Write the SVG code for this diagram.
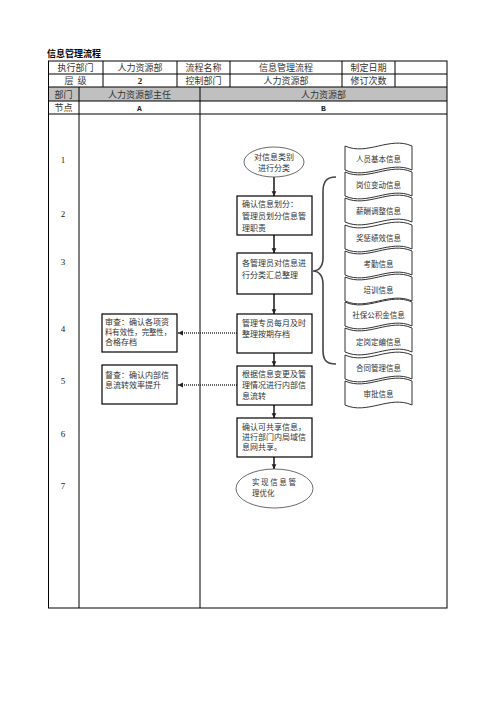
<svg xmlns="http://www.w3.org/2000/svg" width="496" height="702" viewBox="0 0 496 702">
<defs>
<style>
.t{font-family:"Noto Sans CJK SC","Liberation Sans",sans-serif;font-size:9px;fill:#333;}
.h{text-anchor:middle;}
.b{font-family:"Noto Sans CJK SC","Liberation Sans",sans-serif;font-size:8px;fill:#333;}
.s{font-family:"Noto Sans CJK SC","Liberation Sans",sans-serif;font-size:7.5px;fill:#333;text-anchor:middle;}
.n{font-family:"Liberation Serif",serif;font-size:9px;fill:#222;text-anchor:middle;}
.ln{stroke:#000;stroke-width:1;fill:none;}
.box{fill:#fff;stroke:#000;stroke-width:1.2;}
.ell{fill:#fff;stroke:#444;stroke-width:0.8;}
.tape{fill:#fff;stroke:#333;stroke-width:1;}
.arr{stroke:#222;stroke-width:1.6;fill:none;marker-end:url(#ah);}
.dot{stroke:#333;stroke-width:1.3;stroke-dasharray:1 1;fill:none;marker-end:url(#ah2);}
</style>
<marker id="ah" viewBox="0 0 10 10" refX="10" refY="5" markerWidth="3" markerHeight="3.2" orient="auto" markerUnits="strokeWidth">
<path d="M0,0 L10,5 L0,10 Z" fill="#222"/>
</marker>
<marker id="ah2" viewBox="0 0 10 10" refX="10" refY="5" markerWidth="4" markerHeight="4" orient="auto" markerUnits="strokeWidth">
<path d="M0,0 L10,5 L0,10 Z" fill="#222"/>
</marker>
</defs>
<rect width="496" height="702" fill="#fff"/>

<text x="47" y="57" style="font-family:'Noto Sans CJK SC',sans-serif;font-size:9px;font-weight:bold;fill:#000">信息管理流程</text>

<g id="table">
<rect x="48" y="87" width="399" height="14" fill="#c0c0c0"/>
<rect x="48.5" y="61" width="398.5" height="547" class="ln"/>
<line x1="48" y1="74" x2="447" y2="74" class="ln"/>
<line x1="48" y1="87" x2="447" y2="87" class="ln"/>
<line x1="48" y1="101" x2="447" y2="101" class="ln"/>
<line x1="48" y1="114" x2="447" y2="114" class="ln"/>
<line x1="103" y1="61" x2="103" y2="87" class="ln"/>
<line x1="177" y1="61" x2="177" y2="87" class="ln"/>
<line x1="230" y1="61" x2="230" y2="87" class="ln"/>
<line x1="342" y1="61" x2="342" y2="87" class="ln"/>
<line x1="395" y1="61" x2="395" y2="87" class="ln"/>
<line x1="79" y1="87" x2="79" y2="608" class="ln"/>
<line x1="200" y1="87" x2="200" y2="608" class="ln"/>
<text class="t h" x="75.5" y="71">执行部门</text>
<text class="t h" x="140" y="71">人力资源部</text>
<text class="t h" x="203.5" y="71">流程名称</text>
<text class="t h" x="286" y="71">信息管理流程</text>
<text class="t h" x="368.5" y="71">制定日期</text>
<text class="t h" x="75.5" y="84" xml:space="preserve">层  级</text>
<text class="n" x="140" y="84" style="font-weight:bold">2</text>
<text class="t h" x="203.5" y="84">控制部门</text>
<text class="t h" x="286" y="84">人力资源部</text>
<text class="t h" x="368.5" y="84">修订次数</text>
<text class="t h" x="63.5" y="97.5">部门</text>
<text class="t h" x="139.5" y="97.5">人力资源部主任</text>
<text class="t h" x="323.5" y="97.5">人力资源部</text>
<text class="t h" x="63.5" y="111">节点</text>
<text class="n" x="139.5" y="111" style="font-family:'Liberation Mono',monospace;font-weight:bold;font-size:8px">A</text>
<text class="n" x="323.5" y="111" style="font-family:'Liberation Mono',monospace;font-weight:bold;font-size:8px">B</text>
<text class="n" x="63" y="163">1</text>
<text class="n" x="63" y="217">2</text>
<text class="n" x="63" y="265">3</text>
<text class="n" x="63" y="332">4</text>
<text class="n" x="63" y="384">5</text>
<text class="n" x="63" y="437">6</text>
<text class="n" x="63" y="489">7</text>
</g>

<g id="tapes">
<g id="t1"><path class="tape" d="M345,146 C367,156 390,136 412,146 L412,170 C390,160 367,180 345,170 Z"/><text class="s" x="378.5" y="162">人员基本信息</text></g>
<g id="t2"><path class="tape" d="M345,172 C367,182 390,162 412,172 L412,196 C390,186 367,206 345,196 Z"/><text class="s" x="378.5" y="188">岗位变动信息</text></g>
<g id="t3"><path class="tape" d="M345,198 C367,208 390,188 412,198 L412,222 C390,212 367,232 345,222 Z"/><text class="s" x="378.5" y="214">薪酬调整信息</text></g>
<g id="t4"><path class="tape" d="M345,225 C367,235 390,215 412,225 L412,249 C390,239 367,259 345,249 Z"/><text class="s" x="378.5" y="241">奖惩绩效信息</text></g>
<g id="t5"><path class="tape" d="M345,251 C367,261 390,241 412,251 L412,275 C390,265 367,285 345,275 Z"/><text class="s" x="378.5" y="267">考勤信息</text></g>
<g id="t6"><path class="tape" d="M345,277 C367,287 390,267 412,277 L412,301 C390,291 367,311 345,301 Z"/><text class="s" x="378.5" y="293">培训信息</text></g>
<g id="t7"><path class="tape" d="M345,302 C367,312 390,292 412,302 L412,326 C390,316 367,336 345,326 Z"/><text class="s" x="378.5" y="318">社保公积金信息</text></g>
<g id="t8"><path class="tape" d="M345,328 C367,338 390,318 412,328 L412,352 C390,342 367,362 345,352 Z"/><text class="s" x="378.5" y="345">定岗定编信息</text></g>
<g id="t9"><path class="tape" d="M345,355 C367,365 390,345 412,355 L412,379 C390,369 367,389 345,379 Z"/><text class="s" x="378.5" y="371">合同管理信息</text></g>
<g id="t10"><path class="tape" d="M345,381 C367,391 390,371 412,381 L412,405 C390,395 367,415 345,405 Z"/><text class="s" x="378.5" y="397">审批信息</text></g>
</g>

<g id="brace">
<path d="M336,177 C326,177 323,182 323,192 L323,258 C323,266 319,271 313,271 C319,271 323,276 323,284 L323,350 C323,360 326,364 336,364" fill="none" stroke="#444" stroke-width="1.6"/>
</g>

<g id="connectors">
<line class="arr" x1="274" y1="177" x2="274" y2="196"/>
<line class="arr" x1="274" y1="235" x2="274" y2="253"/>
<line class="arr" x1="274" y1="294" x2="274" y2="314"/>
<line class="arr" x1="274" y1="353" x2="274" y2="366"/>
<line class="arr" x1="274" y1="405" x2="274" y2="418"/>
<line class="arr" x1="274" y1="457" x2="274" y2="469"/>
<line class="dot" x1="237" y1="333" x2="178" y2="333"/>
<line class="dot" x1="237" y1="385" x2="178" y2="385"/>
</g>

<g id="n1">
<ellipse class="ell" cx="274" cy="162" rx="30" ry="15"/>
<text class="b" x="274" y="160" text-anchor="middle">对信息类别</text>
<text class="b" x="274" y="171" text-anchor="middle">进行分类</text>
</g>
<g id="n2">
<rect class="box" x="237" y="196" width="75" height="39"/>
<text class="b" x="242" y="207">确认信息划分：</text>
<text class="b" x="242" y="219">管理员划分信息管</text>
<text class="b" x="242" y="231">理职责</text>
</g>
<g id="n3">
<rect class="box" x="237" y="253" width="75" height="41"/>
<text class="b" x="242" y="266">各管理员对信息进</text>
<text class="b" x="242" y="278">行分类汇总整理</text>
</g>
<g id="n4">
<rect class="box" x="237" y="314" width="75" height="39"/>
<text class="b" x="242" y="326">管理专员每月及时</text>
<text class="b" x="242" y="337">整理按期存档</text>
</g>
<g id="n5">
<rect class="box" x="237" y="366" width="75" height="39"/>
<text class="b" x="242" y="377">根据信息变更及管</text>
<text class="b" x="242" y="388">理情况进行内部信</text>
<text class="b" x="242" y="399">息流转</text>
</g>
<g id="n6">
<rect class="box" x="237" y="418" width="75" height="39"/>
<text class="b" x="242" y="430">确认可共享信息，</text>
<text class="b" x="242" y="440">进行部门内局域信</text>
<text class="b" x="242" y="450">息网共享。</text>
</g>
<g id="n7">
<ellipse class="ell" cx="274.5" cy="488.5" rx="38.5" ry="19.5"/>
<text class="b" x="252" y="485" style="font-size:7.5px;letter-spacing:1.6px">实现信息管</text>
<text class="b" x="252" y="496" style="font-size:7.5px">理优化</text>
</g>
<g id="a4">
<rect class="box" x="102" y="314" width="75" height="38"/>
<text class="b" x="105" y="325">审查：确认各项资</text>
<text class="b" x="105" y="335" textLength="66" lengthAdjust="spacingAndGlyphs">料有效性，完整性，</text>
<text class="b" x="105" y="345">合格存档</text>
</g>
<g id="a5">
<rect class="box" x="102" y="365" width="75" height="39"/>
<text class="b" x="105" y="378">督查：确认内部信</text>
<text class="b" x="105" y="388">息流转效率提升</text>
</g>
</svg>
